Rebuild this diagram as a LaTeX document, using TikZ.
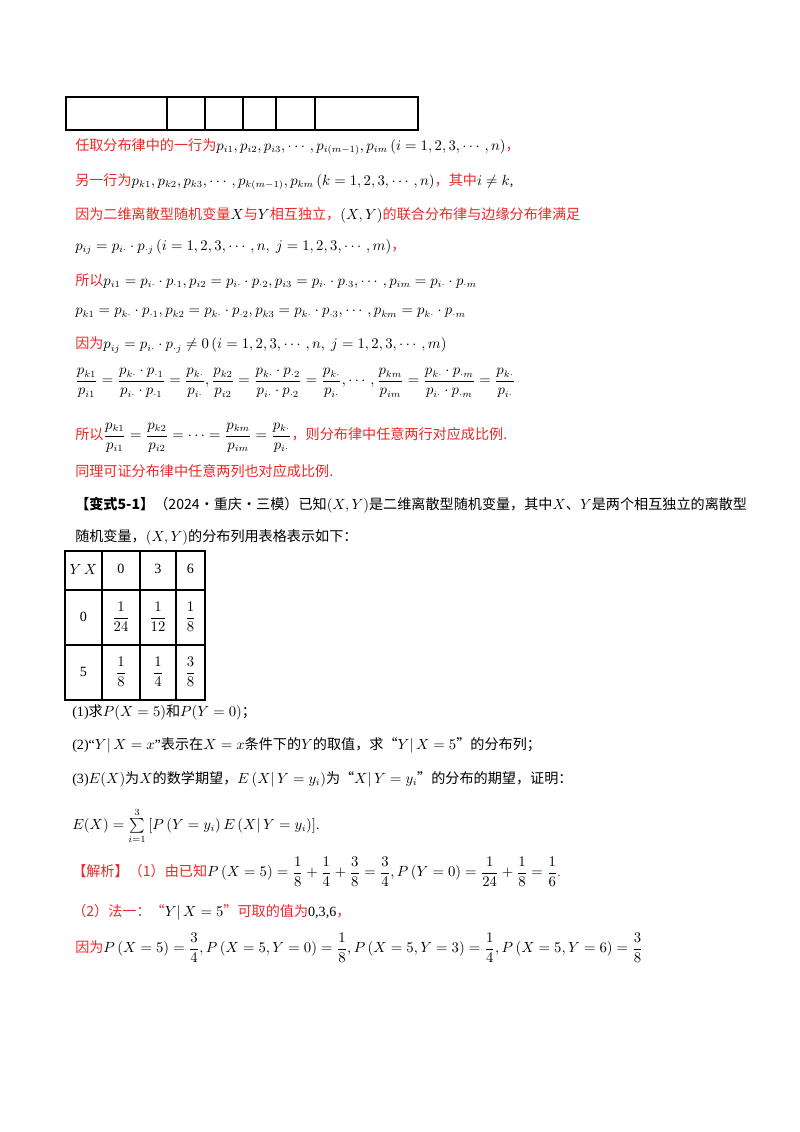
\documentclass[tikz,border=0pt]{standalone}
\usepackage{amsmath}
\usepackage{fontspec}
\setmainfont{Liberation Serif}
\newfontfamily\cjk{Noto Sans CJK SC}
\newcommand{\zh}[1]{{\cjk #1}}
\definecolor{jred}{RGB}{235,40,40}
\begin{document}
\begin{tikzpicture}[x=0.744pt,y=-0.744pt,
  ln/.style={anchor=west,inner sep=0pt,font=\fontsize{10.5}{12}\selectfont},
  rd/.style={ln,text=jred},
  cell/.style={inner sep=0pt,font=\fontsize{10.5}{12}\selectfont}]
\useasboundingbox (0,0) rectangle (800,1132);
% top table
\draw[line width=0.8pt] (66,97) rectangle (418,130);
\foreach \x in {167,205,243,276,315} \draw[line width=0.8pt] (\x,97)--(\x,130);
\node[rd] (l1) at (75,147) {\zh{任取分布律中的一行为}\textcolor{black}{$p_{i1},p_{i2},p_{i3},\cdots,p_{i(m-1)},p_{im}\,(i=1,2,3,\cdots,n)$}\zh{，}};
\node[rd] (l2) at (75,182) {\zh{另一行为}\textcolor{black}{$p_{k1},p_{k2},p_{k3},\cdots,p_{k(m-1)},p_{km}\,(k=1,2,3,\cdots,n)$}\zh{，其中}\textcolor{black}{$i\neq k$,}};
\node[rd] (l3) at (75,215) {\zh{因为二维离散型随机变量}\textcolor{black}{$X$}\zh{与}\textcolor{black}{$Y$}\zh{相互独立，}\textcolor{black}{$(X,Y)$}\zh{的联合分布律与边缘分布律满足}};
\node[ln] (l4) at (75,247) {$p_{ij}=p_{i\cdot}\cdot p_{\cdot j}\,(i=1,2,3,\cdots,n,\ j=1,2,3,\cdots,m)$\textcolor{jred}{\zh{，}}};
\node[rd] (l5) at (75,281) {\zh{所以}\textcolor{black}{$p_{i1}=p_{i\cdot}\cdot p_{\cdot1},p_{i2}=p_{i\cdot}\cdot p_{\cdot2},p_{i3}=p_{i\cdot}\cdot p_{\cdot3},\cdots,p_{im}=p_{i\cdot}\cdot p_{\cdot m}$}};
\node[ln] (l6) at (75,313) {$p_{k1}=p_{k\cdot}\cdot p_{\cdot1},p_{k2}=p_{k\cdot}\cdot p_{\cdot2},p_{k3}=p_{k\cdot}\cdot p_{\cdot3},\cdots,p_{km}=p_{k\cdot}\cdot p_{\cdot m}$};
\node[rd] (l7) at (75,345) {\zh{因为}\textcolor{black}{$p_{ij}=p_{i\cdot}\cdot p_{\cdot j}\neq0\,(i=1,2,3,\cdots,n,\ j=1,2,3,\cdots,m)$}};
\node[ln] (l8) at (75,383) {$\dfrac{p_{k1}}{p_{i1}}=\dfrac{p_{k\cdot}\cdot p_{\cdot1}}{p_{i\cdot}\cdot p_{\cdot1}}=\dfrac{p_{k\cdot}}{p_{i\cdot}},\dfrac{p_{k2}}{p_{i2}}=\dfrac{p_{k\cdot}\cdot p_{\cdot2}}{p_{i\cdot}\cdot p_{\cdot2}}=\dfrac{p_{k\cdot}}{p_{i\cdot}},\cdots,\dfrac{p_{km}}{p_{im}}=\dfrac{p_{k\cdot}\cdot p_{\cdot m}}{p_{i\cdot}\cdot p_{\cdot m}}=\dfrac{p_{k\cdot}}{p_{i\cdot}}$};
\node[rd] (l9) at (75,438) {\zh{所以}\textcolor{black}{$\dfrac{p_{k1}}{p_{i1}}=\dfrac{p_{k2}}{p_{i2}}=\cdots=\dfrac{p_{km}}{p_{im}}=\dfrac{p_{k\cdot}}{p_{i\cdot}}$}\zh{，则分布律中任意两行对应成比例.}};
\node[rd] (l10) at (75,471) {\zh{同理可证分布律中任意两列也对应成比例.}};
\node[ln] (l11) at (75,505) {\zh{\textbf{【变式5-1】}（2024·重庆·三模）已知}$(X,Y)$\zh{是二维离散型随机变量，其中}$X$\zh{、}$Y$\zh{是两个相互独立的离散型}};
\node[ln] (l12) at (75,537) {\zh{随机变量，}$(X,Y)$\zh{的分布列用表格表示如下：}};
% table
\draw[line width=0.8pt] (65,551) rectangle (205,700);
\foreach \x in {102,140,176} \draw[line width=0.8pt] (\x,551)--(\x,700);
\foreach \y in {590,645} \draw[line width=0.8pt] (65,\y)--(205,\y);
\node[cell] (c00) at (83.5,569) {$Y\,X$};
\node[cell] (c01) at (121,569) {0};
\node[cell] (c02) at (158,569) {3};
\node[cell] (c03) at (190.5,569) {6};
\node[cell] (c10) at (83.5,617) {0};
\node[cell] (c11) at (121,617) {$\dfrac{1}{24}$};
\node[cell] (c12) at (158,617) {$\dfrac{1}{12}$};
\node[cell] (c13) at (190.5,617) {$\dfrac{1}{8}$};
\node[cell] (c20) at (83.5,672) {5};
\node[cell] (c21) at (121,672) {$\dfrac{1}{8}$};
\node[cell] (c22) at (158,672) {$\dfrac{1}{4}$};
\node[cell] (c23) at (190.5,672) {$\dfrac{3}{8}$};
\node[ln] (q1) at (72,712) {(1)\zh{求}$P(X=5)$\zh{和}$P(Y=0)$\zh{；}};
\node[ln] (q2) at (72,745) {(2)“$Y|\,X=x$”\zh{表示在}$X=x$\zh{条件下的}$Y$\zh{的取值，求“}$Y|\,X=5$\zh{”的分布列；}};
\node[ln] (q3) at (72,779) {(3)$E(X)$\zh{为}$X$\zh{的数学期望，}$E\left(X|\,Y=y_i\right)$\zh{为“}$X|\,Y=y_i$\zh{”的分布的期望，证明：}};
\node[ln] (q4) at (72,826) {$E(X)=\sum\limits_{i=1}^{3}\left[P\left(Y=y_i\right)E\left(X|\,Y=y_i\right)\right]$.};
\node[rd] (a1) at (72,872) {\zh{【解析】（1）由已知}\textcolor{black}{$P\left(X=5\right)=\dfrac18+\dfrac14+\dfrac38=\dfrac34,P\left(Y=0\right)=\dfrac1{24}+\dfrac18=\dfrac16$}.};
\node[rd] (a2) at (72,912) {\zh{（2）法一：“}\textcolor{black}{$Y|\,X=5$}\zh{”可取的值为}\textcolor{black}{0,3,6}\zh{，}};
\node[rd] (a3) at (75,948) {\zh{因为}\textcolor{black}{$P\left(X=5\right)=\dfrac34,P\left(X=5,Y=0\right)=\dfrac18,P\left(X=5,Y=3\right)=\dfrac14,P\left(X=5,Y=6\right)=\dfrac38$}};
\end{tikzpicture}
\end{document}
